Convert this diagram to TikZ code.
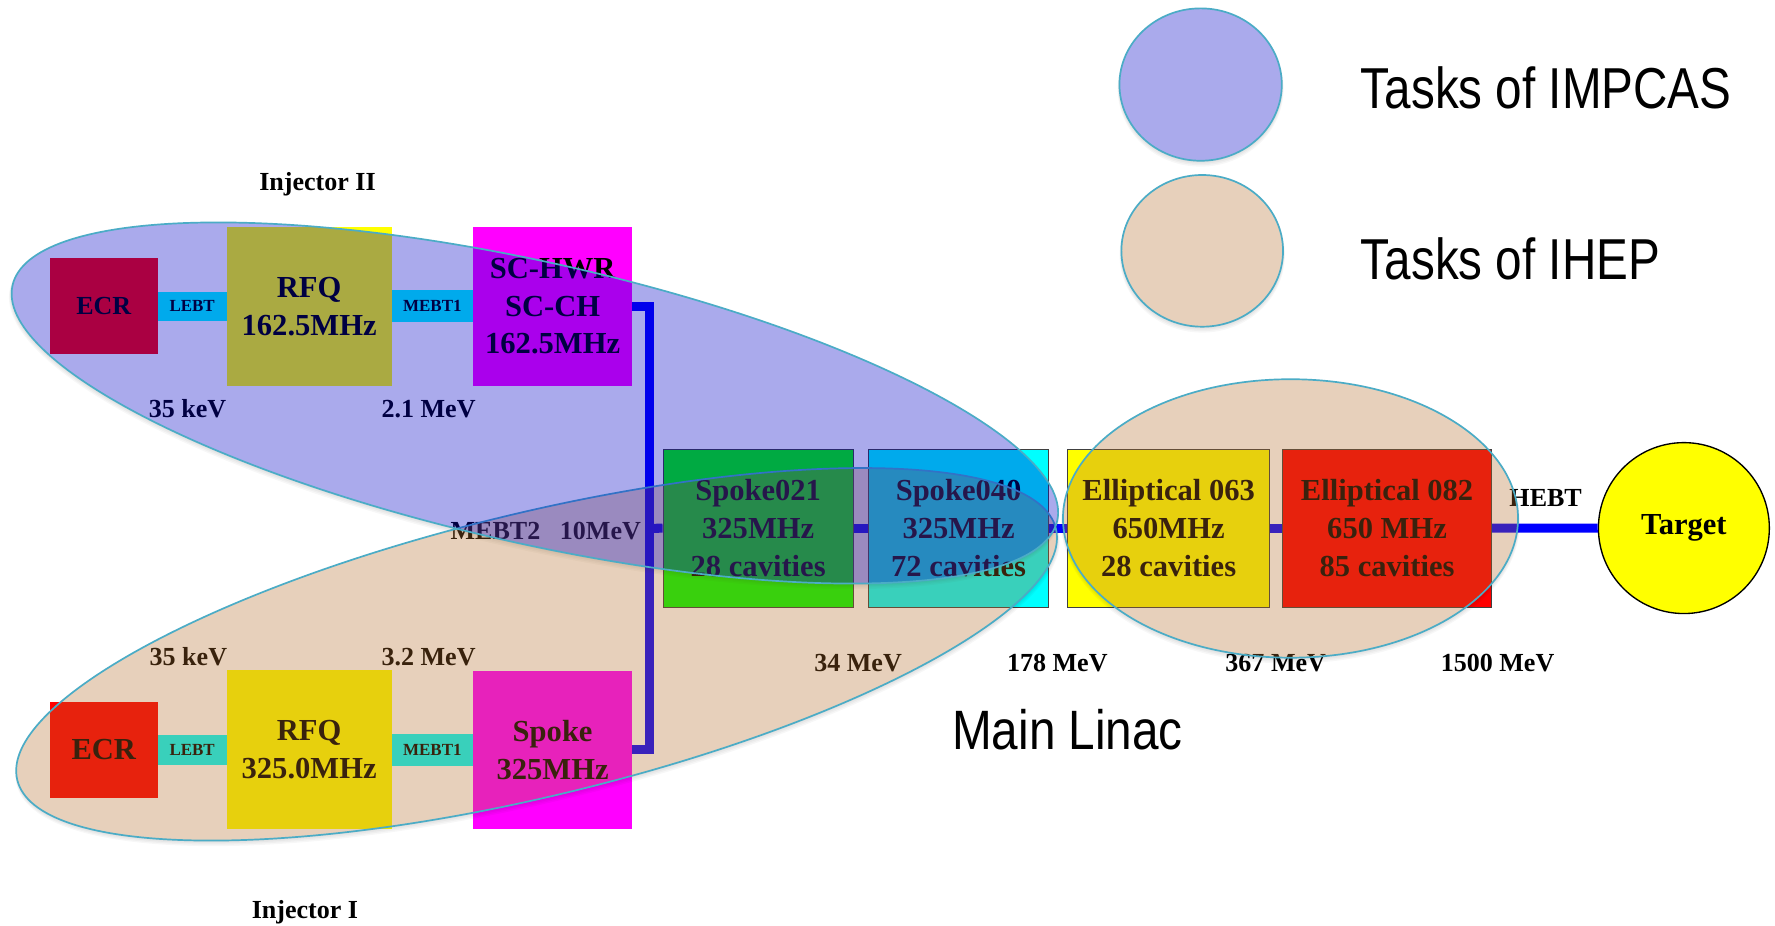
\documentclass[tikz,border=0pt]{standalone}
\usepackage{fontspec}
\setmainfont{Liberation Serif}
\newfontfamily\sansn[FakeStretch=0.825]{Liberation Sans}
\newfontfamily\sansm[FakeStretch=0.86]{Liberation Sans}
\definecolor{cyanb}{RGB}{0,255,255}
\definecolor{magb}{RGB}{255,0,255}
\definecolor{yelb}{RGB}{255,255,0}
\definecolor{redb}{RGB}{255,0,0}
\definecolor{grnb}{RGB}{0,255,0}
\definecolor{bluel}{RGB}{0,0,255}
\definecolor{edgec}{RGB}{75,172,198}
\definecolor{blueE}{RGB}{0,0,200}
\definecolor{tanE}{RGB}{182,110,41}
\tikzset{
 box/.style={inner sep=0pt, font=\bfseries\fontsize{27}{33.3}\selectfont, align=center},
 bar/.style={fill=cyanb, inner sep=0pt, font=\bfseries\fontsize{15}{18}\selectfont},
 lbl/.style={font=\bfseries\fontsize{23}{27}\selectfont, inner sep=0pt, anchor=base},
 beam/.style={draw=bluel, line width=8pt, line join=miter},
 blueov/.style={fill=blueE, fill opacity=0.333, draw=edgec, line width=1.5pt},
 tanov/.style={fill=tanE, fill opacity=0.318, draw=edgec, line width=1.5pt},
 lin/.style={box, draw=black!75, line width=0.8pt, minimum height=139.9pt},
 sanslbl/.style={font=\sansn\fontsize{51}{60}\selectfont, inner sep=0pt}
}
\newcommand\ellshadow[5]{%
 \begin{scope}[shift={(#1,#2)}, rotate=#3, even odd rule]
 \clip (-3000,-3000) rectangle (3000,3000) (0,0) ellipse (#4pt and #5pt);
 \foreach \d in {1,2,3,4}{
   \fill[black, opacity=0.03] (0,\d*0.9) ellipse ({#4pt+0.4pt*\d} and {#5pt+0.4pt*\d});
 }
 \end{scope}}
\begin{document}
\begin{tikzpicture}[x=1pt,y=-1pt]
\fill[white] (0,0) rectangle (1568,818);
\useasboundingbox (0,0) rectangle (1568,818);
% Injector II
\node[box, fill=redb, minimum width=95pt, minimum height=85pt, font=\bfseries\fontsize{23}{27}\selectfont] (ecr2) at (91.7,270.2) {ECR};
\node[bar, minimum width=61.1pt, minimum height=25.6pt] (lebt2) at (169.75,270.5) {LEBT};
\node[box, fill=yelb, minimum width=145.6pt, minimum height=140pt] (rfq2) at (273.1,270.7) {RFQ\\162.5MHz};
\node[bar, minimum width=72.1pt, minimum height=28.5pt] (mebtA) at (381.95,270.5) {MEBT1};
\node[box, fill=magb, minimum width=140.4pt, minimum height=140.5pt] (hwr) at (488.2,270.5) {SC-HWR\\SC-CH\\162.5MHz};
% Injector I
\node[box, fill=redb, minimum width=95pt, minimum height=84.3pt] (ecr1) at (91.7,662.5) {ECR};
\node[bar, minimum width=61.1pt, minimum height=26.5pt] (lebt1) at (169.75,662.5) {LEBT};
\node[box, fill=yelb, minimum width=145.6pt, minimum height=140.7pt] (rfq1) at (273.1,662.3) {RFQ\\325.0MHz};
\node[bar, minimum width=72.1pt, minimum height=28.2pt] (mebtB) at (381.95,662.5) {MEBT1};
\node[box, fill=magb, minimum width=140.4pt, minimum height=140.1pt] (sp1) at (488.2,662.5) {Spoke\\325MHz};
% Main linac
\node[lin, fill=grnb, minimum width=168.1pt] (s021) at (669.75,466.55) {Spoke021\\325MHz\\28 cavities};
\node[lin, fill=cyanb, minimum width=158.8pt] (s040) at (846.8,466.55) {Spoke040\\325MHz\\72 cavities};
\node[lin, fill=yelb, minimum width=178.3pt] (e063) at (1032.35,466.55) {Elliptical 063\\650MHz\\28 cavities};
\node[lin, fill=redb, minimum width=184.6pt] (e082) at (1225.3,466.55) {Elliptical 082\\650 MHz\\85 cavities};
\node[circle, draw=black, line width=1.2pt, fill=yelb, minimum size=151pt, inner sep=0pt, font=\bfseries\fontsize{27}{33}\selectfont] (tgt) at (1487.5,466.5) {\raisebox{-3pt}{Target}};
% beam lines
\coordinate (j) at (574,466.8);
\draw[beam] (hwr.east) -| (j) |- (sp1.east);
\draw[beam] (j) -- (s021.west);
\draw[beam] (s021.east) -- (s040.west);
\draw[beam] (s040.east) -- (e063.west);
\draw[beam] (e063.east) -- (e082.west);
\draw[beam] (e082.east) -- (tgt.west);
% labels
\node[lbl] (inj2) at (280.5,168) {Injector II};
\node[lbl] (kevB) at (165.6,369) {35 keV};
\node[lbl] (mevA) at (378.6,369) {2.1 MeV};
\node[lbl] (mebt2) at (437.7,477) {MEBT2};
\node[lbl] (mev10) at (530.4,477) {10MeV};
\node[lbl] (kevA) at (166.4,588.3) {35 keV};
\node[lbl] (mevB) at (378.6,588) {3.2 MeV};
\node[lbl] (inj1) at (269.4,811) {Injector I};
\node[lbl] (mev34) at (758,593.4) {34 MeV};
\node[lbl] (mev178) at (934,593.4) {178 MeV};
\node[lbl] (mev367) at (1126.9,592.8) {367 MeV};
\node[lbl] (mev1500) at (1322.9,592.8) {1500 MeV};
\node[lbl] (hebt) at (1365.4,447.6) {HEBT};
\node[sanslbl, anchor=base west] (leg1) at (1202,95.7) {Tasks of IMPCAS};
\node[sanslbl, anchor=base west] (leg2) at (1202,247) {Tasks of IHEP};
\node[sanslbl, anchor=base, font=\sansm\fontsize{49}{58}\selectfont] (ml) at (943,662) {Main Linac};
% soft shadows
\ellshadow{474}{578}{13.6}{472}{125}
\ellshadow{1140}{458}{0}{201}{123}
\ellshadow{1062}{221.6}{0}{71.4}{67}
\ellshadow{472.5}{356}{-12.7}{473}{124}
\ellshadow{1060.6}{74.7}{0}{71.7}{67.3}
% overlays
\draw[tanov] [shift={(474,578)}, rotate=13.6] (0,0) ellipse [x radius=472pt, y radius=125pt];
\draw[tanov] (1140,458) ellipse [x radius=201pt, y radius=123pt];
\draw[tanov] (1062,221.6) ellipse [x radius=71.4pt, y radius=67pt];
\draw[blueov] [shift={(472.5,356)}, rotate=-12.7] (0,0) ellipse [x radius=473pt, y radius=124pt];
\draw[blueov] (1060.6,74.7) ellipse [x radius=71.7pt, y radius=67.3pt];
\end{tikzpicture}
\end{document}
